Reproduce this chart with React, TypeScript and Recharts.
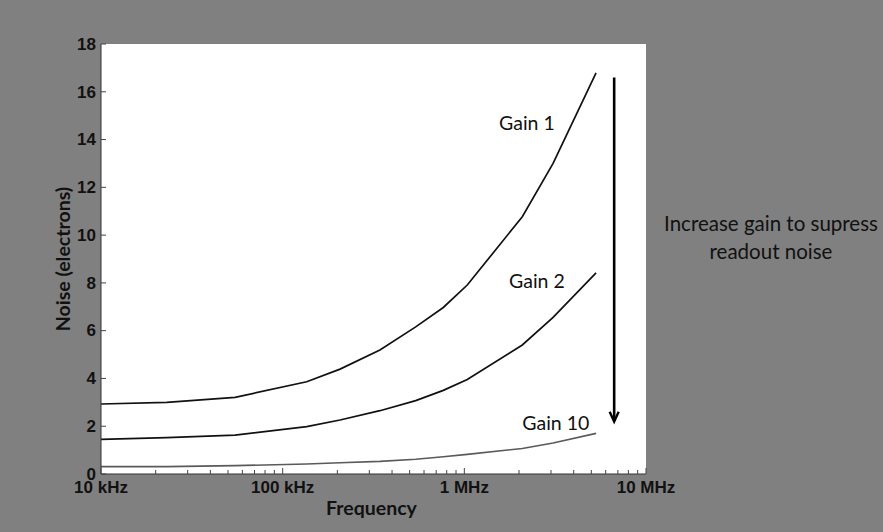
import { LineChart, Line, XAxis, YAxis, ReferenceArea, ReferenceDot, ReferenceLine, Label } from 'recharts';

// frequency in Hz, noise in electrons
const frequencies = [1e4, 2.3e4, 5.47e4, 1.356e5, 2.07e5, 3.43e5, 5.4e5, 7.66e5, 1.038e6, 2.085e6, 3.08e6, 5.31e6];
const gain1 = [2.93, 3.0, 3.21, 3.86, 4.39, 5.19, 6.16, 6.97, 7.91, 10.77, 13.0, 16.79];
const gain2 = [1.45, 1.52, 1.63, 1.98, 2.26, 2.65, 3.07, 3.5, 3.96, 5.4, 6.56, 8.42];
const gain10 = [0.31, 0.31, 0.35, 0.42, 0.47, 0.53, 0.62, 0.72, 0.82, 1.07, 1.3, 1.7];

const xMajorTicks = [1e4, 1e5, 1e6, 1e7];
const xTickLabels = ['10 kHz', '100 kHz', '1 MHz', '10 MHz'];
const xMinorSteps = [2, 3, 4, 5, 6, 7, 8, 9];
const yTicks = [0, 2, 4, 6, 8, 10, 12, 14, 16, 18];

// annotation anchors, in data units
const seriesLabels = [
    { text: 'Gain 1', x: 2.21e6, y: 14.7 },
    { text: 'Gain 2', x: 2.51e6, y: 8.08 },
    { text: 'Gain 10', x: 3.19e6, y: 2.15 },
];
const arrowFreq = 6.68e6;
const arrowFrom = 16.6;
const arrowTo = 2.19;

const data = frequencies.map((f, i) => ({
    freq: f,
    gain1: gain1[i],
    gain2: gain2[i],
    gain10: gain10[i],
}));

const xTicks = [
    ...xMajorTicks,
    ...xMajorTicks.slice(0, 3).flatMap(d => xMinorSteps.map(m => d * m)),
];

const TICK = '#444';
const TICK_FONT = '"Liberation Sans", Arial, sans-serif';
const TEXT_FONT = 'Lato, "Open Sans", sans-serif';

const BottomTick = (props: any) => {
    const { x, y, payload } = props;
    const i = xMajorTicks.indexOf(payload.value);
    return (
        <g>
            <line x1={x} x2={x} y1={y} y2={y - (i >= 0 ? 6 : 4)} stroke={TICK} />
            {i >= 0 && (
                <text x={x} y={y + 19} textAnchor="middle" fontFamily={TICK_FONT} fontWeight="bold" fontSize={17} fill="#111">
                    {xTickLabels[i]}
                </text>
            )}
        </g>
    );
};

const TopTick = (props: any) => {
    const { x, y, payload } = props;
    const major = xMajorTicks.includes(payload.value);
    return <line x1={x} x2={x} y1={y} y2={y + (major ? 6 : 4)} stroke={TICK} />;
};

const LeftTick = (props: any) => {
    const { x, y, payload } = props;
    return (
        <g>
            <line x1={x} x2={x + 5} y1={y} y2={y} stroke={TICK} />
            <text x={x - 5} y={y} dy="0.34em" textAnchor="end" fontFamily={TICK_FONT} fontWeight="bold" fontSize={17} fill="#111">
                {payload.value}
            </text>
        </g>
    );
};

const RightTick = (props: any) => {
    const { x, y } = props;
    return <line x1={x} x2={x - 5} y1={y} y2={y} stroke={TICK} />;
};

const Arrow = (p: any) => {
    const { x1, y1, x2, y2 } = p;
    return (
        <g>
            <line x1={x1} y1={y1} x2={x2} y2={y2 - 1} stroke="#000" strokeWidth={2.6} />
            <path d={`M${x2 - 4.5},${y2 - 10} L${x2},${y2} L${x2 + 4.5},${y2 - 10}`} fill="none" stroke="#000" strokeWidth={2.4} />
        </g>
    );
};

const App = () => {
    return (
        <div style={{ position: 'absolute', left: 0, top: 0, width: 883, height: 532, background: '#808080' }}>
            <LineChart width={883} height={532} data={data} margin={{ top: 44, right: 237, bottom: 0, left: 0 }}>
                <ReferenceArea x1={1e4} x2={1e7} y1={0} y2={18} fill="#ffffff" fillOpacity={1} stroke="none" />
                <XAxis
                    dataKey="freq"
                    type="number"
                    scale="log"
                    domain={[1e4, 1e7]}
                    allowDataOverflow
                    ticks={xTicks}
                    interval={0}
                    tick={BottomTick}
                    tickLine={false}
                    tickSize={0}
                    tickMargin={0}
                    height={58}
                    axisLine={{ stroke: '#333' }}
                >
                    <Label
                        content={({ viewBox }: any) => (
                            <text x={viewBox.x + viewBox.width / 2 - 2} y={507} dominantBaseline="central" textAnchor="middle" fontFamily={TEXT_FONT} fontWeight="bold" fontSize={19.5} fill="#111">
                                Frequency
                            </text>
                        )}
                    />
                </XAxis>
                <XAxis
                    xAxisId="top"
                    orientation="top"
                    dataKey="freq"
                    type="number"
                    scale="log"
                    domain={[1e4, 1e7]}
                    allowDataOverflow
                    ticks={xTicks}
                    interval={0}
                    tick={TopTick}
                    tickLine={false}
                    tickSize={0}
                    tickMargin={0}
                    height={0}
                    axisLine={{ stroke: '#333' }}
                />
                <YAxis
                    domain={[0, 18]}
                    ticks={yTicks}
                    interval={0}
                    tick={LeftTick}
                    tickLine={false}
                    tickSize={0}
                    tickMargin={0}
                    width={101}
                    axisLine={{ stroke: '#333' }}
                >
                    <Label
                        content={({ viewBox }: any) => (
                            <text
                                x={62}
                                y={viewBox.y + viewBox.height / 2}
                                transform={`rotate(-90, 62, ${viewBox.y + viewBox.height / 2})`}
                                dominantBaseline="central"
                                textAnchor="middle"
                                fontFamily={TEXT_FONT}
                                fontWeight="bold"
                                fontSize={19.5}
                                fill="#111"
                            >
                                Noise (electrons)
                            </text>
                        )}
                    />
                </YAxis>
                <YAxis
                    yAxisId="right"
                    orientation="right"
                    domain={[0, 18]}
                    ticks={yTicks}
                    interval={0}
                    tick={RightTick}
                    tickLine={false}
                    tickSize={0}
                    tickMargin={0}
                    width={0}
                    axisLine={{ stroke: '#333' }}
                />
                <Line type="linear" dataKey="gain1" stroke="#111" strokeWidth={1.7} dot={false} isAnimationActive={false} />
                <Line type="linear" dataKey="gain2" stroke="#111" strokeWidth={1.7} dot={false} isAnimationActive={false} />
                <Line type="linear" dataKey="gain10" stroke="#5a5a5a" strokeWidth={1.6} dot={false} isAnimationActive={false} />
                {seriesLabels.map(l => (
                    <ReferenceDot
                        key={l.text}
                        x={l.x}
                        y={l.y}
                        r={0}
                        shape={(p: any) => (
                            <text x={p.cx} y={p.cy} dominantBaseline="central" textAnchor="middle" fontFamily={TEXT_FONT} fontSize={19.5} fill="#111">
                                {l.text}
                            </text>
                        )}
                    />
                ))}
                <ReferenceLine
                    segment={[{ x: arrowFreq, y: arrowFrom }, { x: arrowFreq, y: arrowTo }]}
                    shape={Arrow}
                />
            </LineChart>
            <div
                style={{
                    position: 'absolute',
                    left: 660,
                    top: 209,
                    width: 222,
                    textAlign: 'center',
                    fontFamily: TEXT_FONT,
                    fontSize: 20.5,
                    lineHeight: '28px',
                    color: '#111',
                    whiteSpace: 'nowrap',
                }}
            >
                Increase gain to supress
                <br />
                readout noise
            </div>
        </div>
    );
};

export default App;
